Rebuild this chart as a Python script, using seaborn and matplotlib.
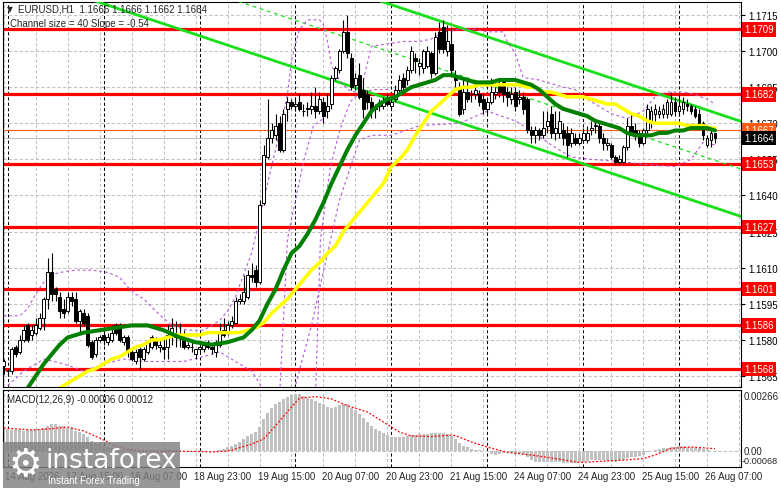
import numpy as np
import seaborn as sns
import matplotlib
matplotlib.use("Agg")
from matplotlib import pyplot as plt
from matplotlib.patches import Rectangle
import matplotlib.transforms as mtransforms

# EURUSD H1 candles (bar 0 = left edge)
opens = [
    1.1569, 1.1567, 1.1567, 1.1577, 1.1575, 1.1580, 1.1586, 1.1582, 1.1583, 1.1585,
    1.1589, 1.1597, 1.1608, 1.1601, 1.1598, 1.1593, 1.1592, 1.1598, 1.1597, 1.1588,
    1.1591, 1.1590, 1.1579, 1.1574, 1.1580, 1.1582, 1.1579, 1.1580, 1.1586, 1.1586,
    1.1579, 1.1581, 1.1575, 1.1571, 1.1576, 1.1572, 1.1575, 1.1577, 1.1580, 1.1577,
    1.1577, 1.1577, 1.1582, 1.1582, 1.1582, 1.1580, 1.1577, 1.1577, 1.1574, 1.1576,
    1.1576, 1.1579, 1.1577, 1.1575, 1.1578, 1.1584, 1.1583, 1.1586, 1.1587, 1.1596,
    1.1596, 1.1598, 1.1607, 1.1609, 1.1604, 1.1637, 1.1656, 1.1664, 1.1665, 1.1670,
    1.1659, 1.1676, 1.1679, 1.1677, 1.1679, 1.1675, 1.1676, 1.1676, 1.1677, 1.1675,
    1.1679, 1.1675, 1.1678, 1.1689, 1.1692, 1.1700, 1.1708, 1.1697, 1.1686, 1.1690,
    1.1684, 1.1682, 1.1679, 1.1676, 1.1677, 1.1677, 1.1680, 1.1677, 1.1680, 1.1684,
    1.1689, 1.1688, 1.1692, 1.1697, 1.1694, 1.1693, 1.1694, 1.1699, 1.1691, 1.1708,
    1.1710, 1.1700, 1.1703, 1.1690, 1.1685, 1.1676, 1.1683, 1.1682, 1.1682, 1.1682,
    1.1680, 1.1676, 1.1679, 1.1682, 1.1686, 1.1687, 1.1683, 1.1680, 1.1683, 1.1680,
    1.1681, 1.1680, 1.1667, 1.1665, 1.1667, 1.1665, 1.1669, 1.1674, 1.1666, 1.1666,
    1.1667, 1.1666, 1.1662, 1.1664, 1.1662, 1.1663, 1.1663, 1.1667, 1.1669, 1.1669,
    1.1664, 1.1661, 1.1661, 1.1656, 1.1654, 1.1654, 1.1660, 1.1669, 1.1667, 1.1666,
    1.1662, 1.1667, 1.1671, 1.1674, 1.1674, 1.1674, 1.1674, 1.1674, 1.1679, 1.1675,
    1.1676, 1.1678, 1.1677, 1.1676, 1.1674, 1.1670, 1.1661, 1.1663, 1.1666,
]
highs = [
    1.1572, 1.1568, 1.1577, 1.1578, 1.1582, 1.1586, 1.1587, 1.1586, 1.1589, 1.1591,
    1.1598, 1.1614, 1.1616, 1.1602, 1.1600, 1.1597, 1.1600, 1.1600, 1.1600, 1.1593,
    1.1593, 1.1591, 1.1580, 1.1581, 1.1582, 1.1584, 1.1583, 1.1586, 1.1587, 1.1587,
    1.1582, 1.1582, 1.1576, 1.1576, 1.1577, 1.1577, 1.1580, 1.1582, 1.1581, 1.1580,
    1.1581, 1.1586, 1.1589, 1.1588, 1.1587, 1.1584, 1.1579, 1.1579, 1.1576, 1.1579,
    1.1579, 1.1580, 1.1578, 1.1580, 1.1587, 1.1589, 1.1588, 1.1590, 1.1598, 1.1599,
    1.1607, 1.1609, 1.1612, 1.1611, 1.1638, 1.1661, 1.1680, 1.1670, 1.1674, 1.1673,
    1.1676, 1.1681, 1.1680, 1.1680, 1.1682, 1.1678, 1.1679, 1.1683, 1.1685, 1.1683,
    1.1681, 1.1682, 1.1690, 1.1694, 1.1701, 1.1713, 1.1715, 1.1699, 1.1691, 1.1695,
    1.1689, 1.1684, 1.1681, 1.1678, 1.1680, 1.1681, 1.1682, 1.1681, 1.1686, 1.1690,
    1.1691, 1.1694, 1.1702, 1.1699, 1.1697, 1.1701, 1.1702, 1.1700, 1.1708, 1.1712,
    1.1713, 1.1711, 1.1710, 1.1692, 1.1687, 1.1688, 1.1688, 1.1684, 1.1688, 1.1684,
    1.1682, 1.1680, 1.1689, 1.1685, 1.1688, 1.1688, 1.1685, 1.1685, 1.1685, 1.1684,
    1.1683, 1.1681, 1.1669, 1.1669, 1.1668, 1.1675, 1.1675, 1.1677, 1.1675, 1.1675,
    1.1670, 1.1669, 1.1668, 1.1666, 1.1666, 1.1668, 1.1669, 1.1671, 1.1671, 1.1670,
    1.1666, 1.1664, 1.1662, 1.1657, 1.1657, 1.1661, 1.1672, 1.1674, 1.1670, 1.1667,
    1.1668, 1.1678, 1.1677, 1.1678, 1.1677, 1.1678, 1.1680, 1.1683, 1.1681, 1.1682,
    1.1681, 1.1680, 1.1678, 1.1677, 1.1676, 1.1671, 1.1665, 1.1668, 1.1666,
]
lows = [
    1.1566, 1.1565, 1.1566, 1.1573, 1.1574, 1.1579, 1.1579, 1.1580, 1.1582, 1.1584,
    1.1584, 1.1593, 1.1596, 1.1596, 1.1589, 1.1589, 1.1591, 1.1594, 1.1587, 1.1583,
    1.1586, 1.1577, 1.1572, 1.1573, 1.1579, 1.1578, 1.1578, 1.1579, 1.1582, 1.1579,
    1.1578, 1.1573, 1.1571, 1.1570, 1.1568, 1.1571, 1.1574, 1.1576, 1.1576, 1.1575,
    1.1572, 1.1572, 1.1578, 1.1577, 1.1577, 1.1576, 1.1576, 1.1575, 1.1572, 1.1575,
    1.1575, 1.1576, 1.1574, 1.1573, 1.1577, 1.1581, 1.1582, 1.1585, 1.1587, 1.1595,
    1.1595, 1.1597, 1.1604, 1.1602, 1.1603, 1.1636, 1.1655, 1.1662, 1.1663, 1.1658,
    1.1658, 1.1671, 1.1676, 1.1675, 1.1675, 1.1673, 1.1673, 1.1674, 1.1672, 1.1674,
    1.1670, 1.1672, 1.1676, 1.1688, 1.1691, 1.1699, 1.1697, 1.1684, 1.1684, 1.1680,
    1.1672, 1.1676, 1.1672, 1.1672, 1.1675, 1.1676, 1.1677, 1.1676, 1.1679, 1.1683,
    1.1683, 1.1686, 1.1691, 1.1691, 1.1690, 1.1691, 1.1693, 1.1689, 1.1690, 1.1699,
    1.1699, 1.1698, 1.1690, 1.1685, 1.1673, 1.1674, 1.1679, 1.1679, 1.1680, 1.1677,
    1.1674, 1.1674, 1.1678, 1.1680, 1.1681, 1.1679, 1.1677, 1.1678, 1.1675, 1.1678,
    1.1674, 1.1666, 1.1662, 1.1662, 1.1663, 1.1664, 1.1666, 1.1664, 1.1663, 1.1664,
    1.1661, 1.1656, 1.1660, 1.1661, 1.1661, 1.1662, 1.1662, 1.1665, 1.1666, 1.1662,
    1.1659, 1.1659, 1.1655, 1.1653, 1.1653, 1.1653, 1.1659, 1.1665, 1.1663, 1.1660,
    1.1661, 1.1665, 1.1668, 1.1671, 1.1672, 1.1672, 1.1672, 1.1673, 1.1673, 1.1673,
    1.1674, 1.1675, 1.1674, 1.1672, 1.1668, 1.1663, 1.1660, 1.1660, 1.1662,
]
closes = [
    1.1571, 1.15672, 1.1576, 1.1574, 1.1580, 1.1584, 1.1580, 1.1584, 1.1586, 1.1589,
    1.1597, 1.1608, 1.1599, 1.1599, 1.1592, 1.1591, 1.1598, 1.1596, 1.1588, 1.1592,
    1.1587, 1.1578, 1.1573, 1.1580, 1.1581, 1.1580, 1.1581, 1.1583, 1.1583, 1.1580,
    1.1581, 1.1575, 1.1572, 1.1575, 1.1573, 1.1576, 1.1579, 1.1581, 1.1578, 1.1578,
    1.1576, 1.1582, 1.1585, 1.1581, 1.1581, 1.1577, 1.1578, 1.1577, 1.1576, 1.1577,
    1.1578, 1.1577, 1.1576, 1.1579, 1.1583, 1.1582, 1.1586, 1.1588, 1.1596, 1.1597,
    1.1600, 1.1607, 1.1606, 1.1604, 1.1636, 1.1657, 1.1664, 1.1667, 1.1669, 1.1659,
    1.1674, 1.1679, 1.1677, 1.1678, 1.1676, 1.16752, 1.16762, 1.1677, 1.1675, 1.1680,
    1.1673, 1.1677, 1.1689, 1.1693, 1.1700, 1.1708, 1.1699, 1.1685, 1.1689, 1.1681,
    1.1676, 1.1679, 1.1676, 1.16762, 1.1678, 1.1679, 1.1678, 1.1679, 1.1684, 1.1688,
    1.1685, 1.1692, 1.1700, 1.1696, 1.1695, 1.1700, 1.1700, 1.1691, 1.1706, 1.1701,
    1.1701, 1.1704, 1.1692, 1.1688, 1.1674, 1.1683, 1.1680, 1.16822, 1.1684, 1.1679,
    1.1676, 1.1679, 1.1683, 1.1683, 1.1683, 1.1682, 1.1681, 1.1682, 1.1677, 1.1681,
    1.1676, 1.1667, 1.1665, 1.1667, 1.1665, 1.1668, 1.1671, 1.1666, 1.1668, 1.1671,
    1.1664, 1.1661, 1.1666, 1.1662, 1.1664, 1.1666, 1.1666, 1.1668, 1.16692, 1.1664,
    1.1662, 1.1662, 1.1656, 1.1654, 1.1655, 1.1660, 1.1669, 1.1666, 1.1665, 1.1662,
    1.1667, 1.1676, 1.1675, 1.1676, 1.1675, 1.1676, 1.1679, 1.1679, 1.1675, 1.1677,
    1.1679, 1.1677, 1.1675, 1.1673, 1.1669, 1.1665, 1.1664, 1.1666, 1.1664,
]

# moving averages (green = fast, yellow = slow), sampled along the bars
ma_fast_bar = [4, 6, 8, 10, 12, 14, 16, 18, 20, 24, 28, 32, 36, 40, 44, 48, 52, 56, 58, 60,
               62, 64, 66, 68, 70, 72, 74, 76, 78, 80, 82, 84, 86, 88, 90, 92, 94, 96, 98, 100,
               102, 104, 106, 108, 110, 112, 114, 116, 118, 120, 122, 124, 126, 128, 130, 132,
               134, 136, 138, 140, 142, 144, 146, 148, 150, 152, 154, 156, 158, 160, 162, 164,
               166, 168, 170, 172, 174, 176, 178]
ma_fast = [1.1555, 1.1560, 1.1565, 1.1570, 1.1574, 1.1578, 1.1581, 1.1582, 1.1583, 1.1584,
           1.1585, 1.1586, 1.1586, 1.1584, 1.1581, 1.1579, 1.1578, 1.1579, 1.1580, 1.1581,
           1.1584, 1.1588, 1.1595, 1.1601, 1.1609, 1.1616, 1.1619, 1.1624, 1.1630, 1.1637,
           1.1645, 1.1652, 1.1659, 1.1665, 1.1670, 1.1675, 1.1678, 1.1680, 1.1681, 1.1683,
           1.1685, 1.1686, 1.1687, 1.1688, 1.1690, 1.1690, 1.1689, 1.1688, 1.1687, 1.1687,
           1.1687, 1.1688, 1.1688, 1.1688, 1.1687, 1.1686, 1.1684, 1.1681, 1.1678, 1.1676,
           1.1675, 1.1674, 1.1673, 1.1671, 1.1670, 1.1669, 1.1668, 1.1666, 1.1665, 1.1665,
           1.1665, 1.1666, 1.1666, 1.1667, 1.1667, 1.1668, 1.1668, 1.1668, 1.1667]
ma_slow_bar = list(range(13, 178, 2)) + [178]
ma_slow = [1.1559, 1.1561, 1.1563, 1.1565, 1.1567, 1.1568, 1.1570, 1.1572, 1.1573, 1.1575,
           1.1577, 1.1578, 1.1580, 1.1580, 1.1581, 1.1582, 1.1582, 1.1582, 1.1582, 1.1583,
           1.1583, 1.1583, 1.1583, 1.1583, 1.1584, 1.1585, 1.1587, 1.1591, 1.1594, 1.1597,
           1.1601, 1.1605, 1.1609, 1.1612, 1.1616, 1.1619, 1.1625, 1.1629, 1.1633, 1.1637,
           1.1641, 1.1645, 1.1652, 1.1655, 1.1659, 1.1665, 1.1670, 1.1675, 1.1678, 1.1681,
           1.1684, 1.1685, 1.1685, 1.1686, 1.1686, 1.1686, 1.1686, 1.1686, 1.1686, 1.1685,
           1.1685, 1.1683, 1.1683, 1.1682, 1.1681, 1.1681, 1.1681, 1.1680, 1.1679, 1.1678,
           1.1678, 1.1676, 1.1674, 1.1673, 1.1671, 1.1670, 1.1670, 1.1670, 1.1670, 1.1669,
           1.1669, 1.1669, 1.1668, 1.1668]

# purple dashed bands
band_up_bar = [0, 4, 6, 8, 10, 12, 14, 18, 22, 26, 29, 31, 33, 35, 38, 42, 46, 50, 54, 56,
               58, 60, 62, 64, 66, 68, 70, 71, 72, 73, 74, 76, 79, 80, 81, 82, 84, 86, 88, 90,
               92, 96, 100, 104, 107, 110, 114, 118, 121, 125, 126, 128, 130, 134, 138, 140,
               143, 146, 149, 152, 156, 160, 163, 166, 170, 173, 176, 178]
band_up = [1.1590, 1.1590, 1.1593, 1.1599, 1.1604, 1.1607, 1.1608, 1.1609, 1.1609, 1.1608,
           1.1606, 1.1602, 1.1599, 1.1597, 1.1592, 1.1586, 1.1584, 1.1584, 1.1588, 1.1592,
           1.1598, 1.1607, 1.1616, 1.1630, 1.1645, 1.1659, 1.1674, 1.1682, 1.1696, 1.1703,
           1.1709, 1.1713, 1.1713, 1.1711, 1.1704, 1.1694, 1.1688, 1.1684, 1.1683, 1.1688,
           1.1702, 1.1703, 1.1704, 1.1704, 1.1705, 1.1708, 1.1709, 1.1709, 1.1708, 1.1708,
           1.1704, 1.1699, 1.1689, 1.1688, 1.1686, 1.1685, 1.1684, 1.1680, 1.1677, 1.1674,
           1.1672, 1.1675, 1.1681, 1.1683, 1.1683, 1.1682, 1.1680, 1.1678]
band_lo_bar = [1, 5, 10, 15, 20, 25, 30, 35, 40, 45, 50, 54, 58, 62, 64, 65, 68, 72, 73, 77,
               79, 84, 89, 92, 97, 104, 114, 121, 128, 132, 137, 142, 147, 155, 160, 168, 172,
               175, 178]
band_lo = [1.1561, 1.1567, 1.1572, 1.1570, 1.1567, 1.1570, 1.1572, 1.1571, 1.1571, 1.1571,
           1.1573, 1.1575, 1.1571, 1.1567, 1.1562, 1.1558, 1.1545, 1.1555, 1.1561, 1.1586,
           1.1601, 1.1638, 1.1663, 1.1665, 1.1665, 1.1669, 1.1670, 1.1675, 1.1671, 1.1667,
           1.1661, 1.1656, 1.1655, 1.1654, 1.1653, 1.1652, 1.1655, 1.1662, 1.1661]
band2_bar = [69, 71, 75, 77.5, 80]
band2 = [1.1556, 1.1622, 1.1654, 1.1669, 1.1672]
band3_bar = [78, 79.25, 81.75, 84.25, 86.75, 89.25, 93, 97]
band3 = [1.1556, 1.1622, 1.1652, 1.1668, 1.1679, 1.1683, 1.1684, 1.1684]

# regression channel (size 40, slope -0.54) at the chart edges
chan_bar = [0, 185]
chan_upper = [1.17730, 1.16705]
chan_mid = [1.17532, 1.16507]
chan_lower = [1.17335, 1.16310]

# levels
levels = [1.1709, 1.1682, 1.1653, 1.1627, 1.1601, 1.1586, 1.1568]
ask_price = 1.1667
bid_price = 1.1664
price_ticks = [1.1715, 1.1700, 1.1685, 1.1670, 1.1655, 1.1640, 1.1625, 1.1610, 1.1595, 1.1580, 1.1565]

# MACD(12,26,9): histogram per bar and signal line
macd_hist = [
    0.00106, 0.00105, 0.00104, 0.00103, 0.00102, 0.00098, 0.00100, 0.00102, 0.00105, 0.00108, 0.00113,
    0.00122, 0.00130, 0.00130, 0.00122, 0.00120, 0.00113, 0.00113, 0.00098, 0.00090, 0.00082,
    0.00066, 0.00050, 0.00039, 0.00034, 0.00026, 0.00018, 0.00013, 0.00010, 0.00006, 0.00006,
    0.00006, 0.00003, -0.00002, -0.00005, -0.00004, -0.00002, 0.00001, 0.00002, 0.00000, 0.00002,
    0.00004, 0.00005, 0.00004, 0.00003, 0.00001, -0.00001, -0.00003, -0.00004, -0.00004, -0.00003,
    -0.00002, -0.00002, 0.00000, 0.00005, 0.00008, 0.00018, 0.00026, 0.00034, 0.00045, 0.00058,
    0.00071, 0.00082, 0.00093, 0.00114, 0.00154, 0.00186, 0.00210, 0.00226, 0.00237, 0.00250,
    0.00263, 0.00273, 0.00278, 0.00274, 0.00266, 0.00258, 0.00250, 0.00242, 0.00234, 0.00226,
    0.00215, 0.00210, 0.00213, 0.00221, 0.00226, 0.00226, 0.00210, 0.00199, 0.00178, 0.00162,
    0.00141, 0.00122, 0.00109, 0.00098, 0.00086, 0.00077, 0.00066, 0.00066, 0.00066, 0.00070,
    0.00074, 0.00077, 0.00077, 0.00082, 0.00082, 0.00084, 0.00085, 0.00086, 0.00085, 0.00085,
    0.00082, 0.00074, 0.00058, 0.00039, 0.00026, 0.00018, 0.00010, 0.00006, 0.00003, -0.00002,
    -0.00006, -0.00014, -0.00019, -0.00014, -0.00010, -0.00006, -0.00010, -0.00014, -0.00014, -0.00019,
    -0.00030, -0.00042, -0.00051, -0.00054, -0.00054, -0.00054, -0.00054, -0.00054, -0.00054, -0.00058,
    -0.00060, -0.00060, -0.00058, -0.00054, -0.00051, -0.00046, -0.00043, -0.00042, -0.00042, -0.00043,
    -0.00046, -0.00050, -0.00051, -0.00050, -0.00042, -0.00035, -0.00030, -0.00030, -0.00026, -0.00019,
    -0.00006, 0.00000, 0.00005, 0.00010, 0.00013, 0.00016, 0.00020, 0.00022, 0.00024, 0.00024,
    0.00022, 0.00022, 0.00020, 0.00016, 0.00010, 0.00003, -0.00002, -0.00006,
]
signal_bar = [0, 7, 12, 16, 20, 24, 28, 32, 37, 49, 52, 56, 58, 62, 65, 68, 72, 74, 78, 82,
              86, 91, 95, 97, 99, 102, 107, 112, 113, 117, 121, 126, 132, 139, 144, 149, 155,
              160, 163, 167, 172, 177, 178]
signal = [0.00111, 0.00102, 0.00108, 0.00116, 0.00097, 0.00063, 0.00024, 0.00005, 0.00000,
          -0.00002, -0.00004, 0.00000, 0.00010, 0.00034, 0.00058, 0.00122, 0.00213, 0.00256,
          0.00263, 0.00252, 0.00219, 0.00189, 0.00140, 0.00116, 0.00092, 0.00073, 0.00070,
          0.00077, 0.00075, 0.00044, 0.00019, -0.00006, -0.00019, -0.00039, -0.00055, -0.00050,
          -0.00044, -0.00036, -0.00019, 0.00013, 0.00020, 0.00013, 0.00012]

time_bar = [0, 16, 32, 48, 64, 80, 96, 112, 128, 144, 160, 176]
time_labels = ["14 Aug 2026", "17 Aug 15:00", "18 Aug 07:00", "18 Aug 23:00", "19 Aug 15:00",
               "20 Aug 07:00", "20 Aug 23:00", "21 Aug 15:00", "24 Aug 07:00", "24 Aug 23:00",
               "25 Aug 15:00", "26 Aug 07:00"]
day_sep_bar = [1, 25, 49, 73, 97, 121, 145, 169]
grid_bar = list(range(0, 185, 8))

sns.set_style("white")
plt.rcParams['font.family'] = ['Liberation Sans', 'DejaVu Sans']
plt.rcParams['axes.linewidth'] = 0.8

W, H = 781, 489
fig = plt.figure(figsize=(W / 100, H / 100), dpi=100)
ax = fig.add_axes([3 / W, 1 - 388 / H, 738 / W, 385 / H])
axm = fig.add_axes([3 / W, 1 - 468 / H, 738 / W, 77 / H])

xlim = (-0.2, 184.5)
grid_kw = dict(color='#c0c0c0', lw=0.75, ls=(0, (3, 2.2)), zorder=0)
sep_kw = dict(color='black', lw=0.75, ls=(0, (3, 2.2)), zorder=1)

# ---------------- main panel
for g in grid_bar:
    ax.axvline(g, **grid_kw)
for p in price_ticks:
    ax.axhline(p, **grid_kw)
for s in day_sep_bar:
    ax.axvline(s, **sep_kw)

for lv in levels:
    ax.axhline(lv, color='#ff0000', lw=2.3, zorder=2)
ax.axhline(ask_price, color='#ff5a14', lw=0.8, zorder=2)
ax.axhline(bid_price, color='#c0c0c0', lw=0.8, zorder=2)

lime = '#18e018'
sns.lineplot(x=chan_bar, y=chan_upper, ax=ax, color=lime, lw=2.0, zorder=3)
sns.lineplot(x=chan_bar, y=chan_lower, ax=ax, color=lime, lw=2.0, zorder=3)
sns.lineplot(x=chan_bar, y=chan_mid, ax=ax, color=lime, lw=0.9, linestyle=(0, (3, 3)), zorder=3)

purple = '#b45ad8'
for bx, by in [(band_up_bar, band_up), (band_lo_bar, band_lo), (band2_bar, band2), (band3_bar, band3)]:
    sns.lineplot(x=bx, y=by, ax=ax, color=purple, lw=0.8, linestyle=(0, (2.5, 2.5)), zorder=4)

# candles
idx = np.arange(len(closes))
o = np.array(opens)
c = np.array(closes)
hi = np.array(highs)
lo = np.array(lows)
up = c >= o
ax.vlines(idx, lo, hi, color='black', lw=0.8, zorder=5)
body_lo = np.minimum(o, c)
body_h = np.maximum(np.abs(c - o), 0.000012)
ax.bar(idx[up], body_h[up], bottom=body_lo[up], width=0.7, color='white',
       edgecolor='black', linewidth=0.7, zorder=6)
ax.bar(idx[~up], body_h[~up], bottom=body_lo[~up], width=0.7, color='black',
       edgecolor='black', linewidth=0.7, zorder=6)

sns.lineplot(x=ma_slow_bar, y=ma_slow, ax=ax, color='#ffff00', lw=2.6, zorder=7)
sns.lineplot(x=ma_fast_bar, y=ma_fast, ax=ax, color='#008000', lw=2.9, zorder=8)

ax.set_xlim(*xlim)
ax.set_ylim(1.15604, 1.17204)
ax.set_xticks([])
ax.yaxis.tick_right()
ax.set_yticks(price_ticks)
ax.set_yticklabels([f"{p:.4f}" for p in price_ticks])
ax.tick_params(axis='y', length=3, width=0.8, pad=2, labelsize=7, colors='black')
ax.set_xlabel('')
ax.set_ylabel('')
for sp in ax.spines.values():
    sp.set_color('black')

# price boxes on the right, drawn at figure level so they sit above the tick labels
trans = mtransforms.blended_transform_factory(fig.transFigure, ax.transData)
box_x = 744 / W
for lv in levels:
    fig.text(box_x, lv, f"{lv:.4f}", transform=trans, ha='left', va='center', color='white',
             fontsize=7, bbox=dict(boxstyle='square,pad=0.22', fc='#ff0000', ec='none'), zorder=20)
fig.text(box_x, ask_price, f"{ask_price:.4f}", transform=trans, ha='left', va='center',
         color='white', fontsize=7, bbox=dict(boxstyle='square,pad=0.22', fc='#ff5a14', ec='none'),
         zorder=21)
fig.text(box_x, bid_price, f"{bid_price:.4f}", transform=trans, ha='left', va='center',
         color='white', fontsize=7, bbox=dict(boxstyle='square,pad=0.22', fc='black', ec='none'),
         zorder=22)

# ---------------- MACD panel
for g in grid_bar:
    axm.axvline(g, **grid_kw)
axm.axhline(0, **grid_kw)
for s in day_sep_bar:
    axm.axvline(s, **sep_kw)
axm.bar(idx, macd_hist, width=0.75, color='#c0c0c0', linewidth=0, zorder=2)
sns.lineplot(x=signal_bar, y=signal, ax=axm, color='#ff0000', lw=0.9,
             linestyle=(0, (1.5, 1.5)), zorder=3)
axm.set_xlim(*xlim)
axm.set_ylim(-0.00077, 0.00295)
axm.set_xticks([])
axm.set_yticks([])
axm.set_xlabel('')
axm.set_ylabel('')
for sp in axm.spines.values():
    sp.set_color('black')
mtrans = mtransforms.blended_transform_factory(fig.transFigure, axm.transData)
fig.text(744 / W, 0.00266, "0.00266", transform=mtrans, ha='left', va='center', fontsize=7, zorder=20)
fig.text(744 / W, 0.0, "0.00", transform=mtrans, ha='left', va='center', fontsize=7, zorder=20)
fig.text(742 / W, -0.00048, "-0.00068", transform=mtrans, ha='left', va='center', fontsize=6.6, zorder=20)
axm.text(0.006, 0.88, "MACD(12,26,9) -0.00006 0.00012", transform=axm.transAxes,
         ha='left', va='center', fontsize=7, zorder=30)

ttrans = mtransforms.blended_transform_factory(axm.transData, axm.transAxes)
for tb, tl in zip(time_bar, time_labels):
    axm.text(tb - 0.4 if tb else 0.3, -0.12, tl, transform=ttrans, ha='left', va='center',
             fontsize=7, clip_on=False)

# header texts
fig.text(7 / W, 1 - 10 / H, "\u25BC", fontsize=5.5, ha='left', va='center', family='DejaVu Sans')
fig.text(18 / W, 1 - 10 / H, "EURUSD,H1  1.1666 1.1666 1.1662 1.1664", fontsize=7, ha='left', va='center')
fig.text(10 / W, 1 - 24 / H, "Channel size = 40 Slope = -0.54", fontsize=7, ha='left', va='center')

# watermark
fig.add_artist(Rectangle((3 / W, 0), 177 / W, 46 / H, transform=fig.transFigure,
                         fc='#808080', ec='none', alpha=0.82, zorder=10))
fig.text(25 / W, 1 - 466 / H, "\u2699", fontsize=27, color='white', ha='center', va='center',
         family='DejaVu Sans', zorder=11)
fig.text(46 / W, 1 - 461 / H, "instaforex", fontsize=19, color='white', ha='left', va='center',
         family='DejaVu Sans', zorder=11)
fig.text(48 / W, 1 - 481 / H, "Instant Forex Trading", fontsize=7, color='white', ha='left',
         va='center', zorder=11)

fig.savefig("out.png", dpi=100)
